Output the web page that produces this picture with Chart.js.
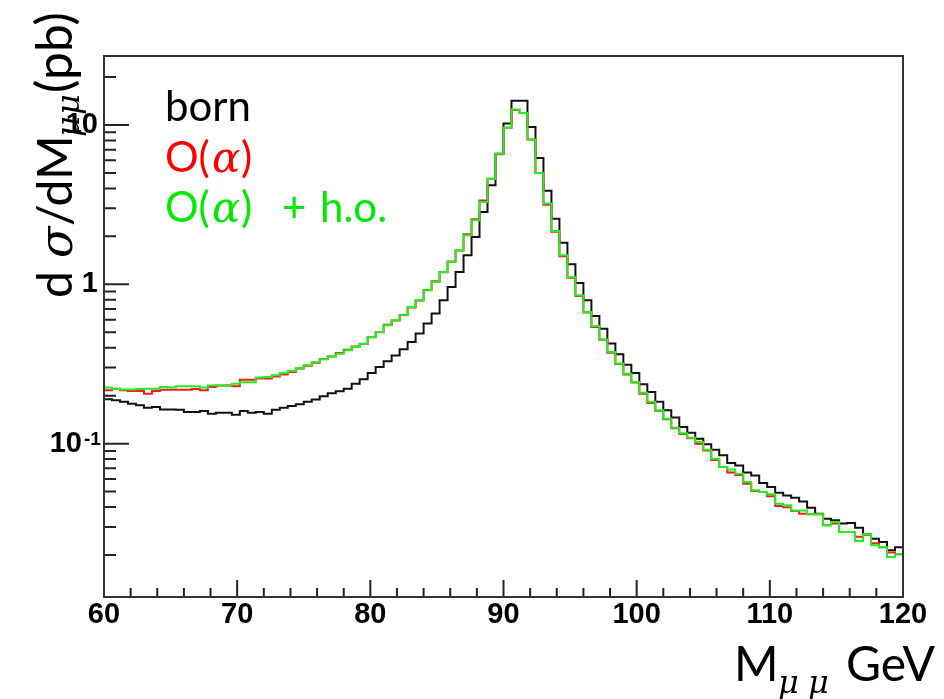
<!DOCTYPE html>
<html><head><meta charset="utf-8">
<script src="https://cdn.jsdelivr.net/npm/chart.js@4.4.0/dist/chart.umd.min.js"></script>
<style>html,body{margin:0;padding:0;background:#fff;}#wrap{width:944px;height:699px;}</style>
</head><body><div id="wrap"><canvas id="c" width="944" height="699"></canvas></div>
<script>
// Histogram binning (category axis): 100 bins from 60 to 120 GeV
const binLow = 60, binWidth = 0.6, nBins = 100;

// dσ/dM (pb) per bin
const born = [
0.190,0.187,0.183,0.178,0.174,0.168,0.170,0.164,0.164,0.163,
0.158,0.158,0.160,0.154,0.156,0.156,0.152,0.160,0.156,0.158,
0.154,0.163,0.168,0.172,0.177,0.183,0.189,0.198,0.207,0.213,
0.221,0.238,0.254,0.278,0.303,0.329,0.358,0.391,0.435,0.491,
0.567,0.655,0.793,0.962,1.195,1.52,1.98,2.84,4.18,6.6,
10.2,14.2,14.2,9.7,6.2,3.87,2.58,1.82,1.335,1.02,
0.794,0.632,0.527,0.425,0.364,0.313,0.278,0.236,0.211,0.183,
0.162,0.146,0.127,0.117,0.1075,0.099,0.0917,0.0845,0.0755,0.073,
0.0658,0.0632,0.0566,0.0534,0.0492,0.0473,0.0458,0.0434,0.0396,0.0363,
0.0338,0.033,0.0315,0.0318,0.0297,0.027,0.0253,0.0241,0.0214,0.0224];

const oAlpha = [
0.216,0.221,0.216,0.214,0.214,0.206,0.214,0.218,0.218,0.218,
0.218,0.220,0.216,0.227,0.232,0.232,0.229,0.252,0.252,0.256,
0.256,0.264,0.272,0.282,0.296,0.308,0.322,0.340,0.352,0.370,
0.388,0.407,0.422,0.465,0.500,0.558,0.592,0.641,0.716,0.790,
0.920,1.045,1.190,1.39,1.63,2.06,2.56,3.36,4.6,6.55,
9.6,12.4,11.9,8.1,5.0,3.16,2.14,1.50,1.10,0.845,
0.665,0.540,0.448,0.372,0.316,0.272,0.242,0.206,0.180,0.161,
0.142,0.125,0.115,0.108,0.100,0.0905,0.079,0.0713,0.066,0.0635,
0.056,0.0505,0.0497,0.0468,0.0406,0.0399,0.0378,0.0363,0.0360,0.0360,
0.0307,0.0315,0.0279,0.0279,0.0260,0.0268,0.0237,0.0224,0.0207,0.0202];

const oAlphaHO = [
0.225,0.221,0.219,0.219,0.220,0.221,0.221,0.227,0.225,0.229,
0.229,0.229,0.225,0.232,0.232,0.232,0.238,0.243,0.243,0.260,
0.262,0.269,0.278,0.286,0.297,0.310,0.324,0.338,0.353,0.367,
0.385,0.404,0.424,0.467,0.502,0.553,0.594,0.639,0.720,0.793,
0.917,1.034,1.195,1.38,1.635,2.03,2.52,3.28,4.6,6.6,
9.6,12.5,11.9,8.1,5.0,3.21,2.16,1.52,1.11,0.853,
0.670,0.547,0.450,0.376,0.318,0.275,0.244,0.209,0.183,0.162,
0.1435,0.126,0.116,0.109,0.1023,0.0917,0.0805,0.0713,0.0687,0.0648,
0.0574,0.0509,0.0497,0.0481,0.0420,0.0410,0.0381,0.0381,0.0360,0.0360,
0.0307,0.0322,0.0279,0.0279,0.0245,0.0270,0.0230,0.0224,0.0194,0.0202];

// Axis ticks and labels
const xMajorTicks = [60,70,80,90,100,110,120];
const xMinorTicks = [62,64,66,68,72,74,76,78,82,84,86,88,92,94,96,98,102,104,106,108,112,114,116,118];
const yMajorTicks = [0.1,1,10];
const yTickLabels = ['10  ','1','10'];      // mantissas
const yTickExponents = ['-1','',''];        // superscripts
const yMinorTicks = [0.02,0.03,0.04,0.05,0.06,0.07,0.08,0.09,0.2,0.3,0.4,0.5,0.6,0.7,0.8,0.9,2,3,4,5,6,7,8,9,20];
const yRange = [0.0109, 27.1];
const xRange = [60, 120];

function histPoints(vals){
  const pts = vals.map((v,i)=>({x: binLow + i*binWidth, y: v}));
  pts.push({x: binLow + nBins*binWidth, y: vals[vals.length-1]});
  return pts;
}

const TICKFONT = "'Liberation Sans',Arial,sans-serif";
const TXT = "Lato,'Open Sans',sans-serif";
const GREEK = "'DejaVu Serif',serif";

function runs(ctx, items, x0, y0){
  items.forEach(it=>{
    ctx.font = it.f;
    ctx.fillText(it.t, x0 + it.dx, y0 + (it.dy||0));
  });
}

const rootPlugin = {
  id: 'rootStyle',
  afterDatasetsDraw(chart){
    const {ctx, chartArea:a, scales:{x,y}} = chart;
    ctx.save();
    ctx.strokeStyle = '#222'; ctx.lineWidth = 2;
    ctx.beginPath();
    xMajorTicks.forEach(v=>{const p=x.getPixelForValue(v); ctx.moveTo(p,a.bottom); ctx.lineTo(p,a.bottom-17);});
    xMinorTicks.forEach(v=>{const p=x.getPixelForValue(v); ctx.moveTo(p,a.bottom); ctx.lineTo(p,a.bottom-9);});
    yMajorTicks.forEach(v=>{const p=y.getPixelForValue(v); ctx.moveTo(a.left,p); ctx.lineTo(a.left+25,p);});
    yMinorTicks.forEach(v=>{const p=y.getPixelForValue(v); ctx.moveTo(a.left,p); ctx.lineTo(a.left+12,p);});
    ctx.stroke();
    ctx.strokeStyle = '#333';
    ctx.strokeRect(a.left, a.top, a.right-a.left, a.bottom-a.top);
    ctx.restore();
  },
  afterDraw(chart){
    const ctx = chart.ctx, y = chart.scales.y;
    ctx.save();
    ctx.textBaseline = 'alphabetic';
    ctx.textAlign = 'left';
    // tick-label exponents
    ctx.fillStyle = '#000';
    ctx.font = "bold 19px "+TICKFONT;
    yMajorTicks.forEach((v,i)=>{ if (yTickExponents[i]) ctx.fillText(yTickExponents[i], 84, y.getPixelForValue(v) + 1); });
    // legend texts
    const F = "42px "+TXT, FI = "italic 42px "+GREEK;
    ctx.fillStyle = '#000';
    ctx.font = F; ctx.fillText('born', 165, 121);
    ctx.fillStyle = '#ff0000';
    runs(ctx, [{t:'O(',f:F,dx:0},{t:'\u03B1',f:FI,dx:47},{t:')',f:F,dx:76}], 165, 172);
    ctx.fillStyle = '#00ea00';
    runs(ctx, [{t:'O(',f:F,dx:0},{t:'\u03B1',f:FI,dx:47},{t:')',f:F,dx:76},{t:'+',f:F,dx:117},{t:'h.o.',f:F,dx:155}], 165, 222);
    // x axis title
    ctx.fillStyle = '#000';
    const XF = "48px "+TXT, XS = "italic 32px "+GREEK;
    runs(ctx, [{t:'M',f:XF,dx:0},{t:'\u03BC',f:XS,dx:44,dy:12},{t:'\u03BC',f:XS,dx:74,dy:12},{t:'GeV',f:XF,dx:112}], 734, 681);
    // y axis title (rotated)
    ctx.translate(72, 298);
    ctx.rotate(-Math.PI/2);
    const YF = "48px "+TXT, YI = "italic 46px "+GREEK, YS = "italic 32px "+GREEK, YP = "50px "+TXT;
    runs(ctx, [{t:'d',f:YF,dx:0},{t:'\u03C3',f:YI,dx:40},{t:'/dM',f:YF,dx:72},{t:'\u03BC',f:YS,dx:161,dy:7},{t:'\u03BC',f:YS,dx:183,dy:7},{t:'(pb)',f:YP,dx:205}], 0, 0);
    ctx.restore();
  }
};

new Chart(document.getElementById('c'), {
  type: 'line',
  data: {
    datasets: [
      {label:'O(\u03B1) + h.o.', data: histPoints(oAlphaHO), borderColor:'#22ee22', order:0},
      {label:'O(\u03B1)', data: histPoints(oAlpha), borderColor:'#ff1a1a', order:1},
      {label:'born', data: histPoints(born), borderColor:'#111111', order:2}
    ].map(d=>Object.assign(d,{stepped:true, borderWidth:2, pointRadius:0, fill:false, tension:0}))
  },
  options: {
    responsive:false, animation:false, devicePixelRatio:1,
    layout:{padding:{top:56,right:41,left:0,bottom:0}},
    plugins:{legend:{display:false}, tooltip:{enabled:false}},
    scales:{
      x:{type:'linear', min:xRange[0], max:xRange[1],
        afterBuildTicks:s=>{s.ticks = xMajorTicks.map(v=>({value:v}));},
        afterFit:s=>{s.height = 102;},
        grid:{display:false, drawTicks:false}, border:{display:false},
        ticks:{autoSkip:false, maxRotation:0, padding:1, color:'#000', font:{family:TICKFONT, weight:'bold', size:29}}
      },
      y:{type:'logarithmic', min:yRange[0], max:yRange[1],
        afterBuildTicks:s=>{s.ticks = yMajorTicks.map(v=>({value:v, major:true}));},
        afterFit:s=>{s.width = 104;},
        grid:{display:false, drawTicks:false}, border:{display:false},
        ticks:{autoSkip:false, padding:6, color:'#000', font:{family:TICKFONT, weight:'bold', size:29},
          callback:(v)=>{const i=yMajorTicks.indexOf(v); return i>=0?yTickLabels[i]:'';}}
      }
    }
  },
  plugins:[rootPlugin]
});
</script></body></html>
